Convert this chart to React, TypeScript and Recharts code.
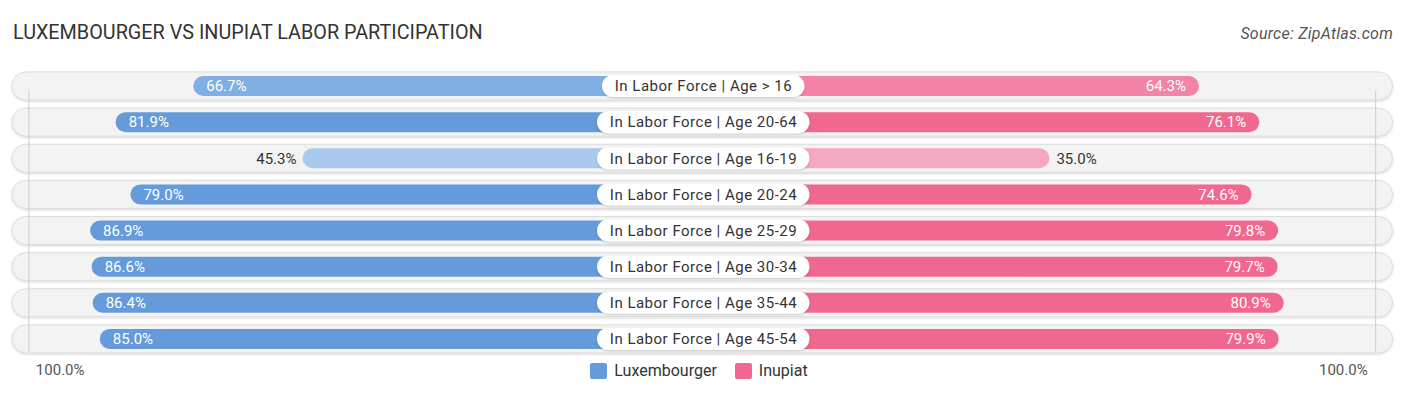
import React from 'react';
import { BarChart, Bar, XAxis, YAxis, ReferenceLine, LabelList } from 'recharts';

const TITLE = 'LUXEMBOURGER VS INUPIAT LABOR PARTICIPATION';
const SOURCE = 'Source: ZipAtlas.com';
const seriesNames = ['Luxembourger', 'Inupiat'];
const categories = [
  'In Labor Force | Age > 16',
  'In Labor Force | Age 20-64',
  'In Labor Force | Age 16-19',
  'In Labor Force | Age 20-24',
  'In Labor Force | Age 25-29',
  'In Labor Force | Age 30-34',
  'In Labor Force | Age 35-44',
  'In Labor Force | Age 45-54',
];
const luxembourger = [66.7, 81.9, 45.3, 79.0, 86.9, 86.6, 86.4, 85.0];
const inupiat = [64.3, 76.1, 35.0, 74.6, 79.8, 79.7, 80.9, 79.9];
const axisLabels = ['100.0%', '100.0%'];

// visual base that sits under the centre label (in axis units)
const OFFSET = 33;
const HALF = 135.2;
const GRID = 131.9;

const BLUE = '#659bda';
const PINK = '#f0678f';
const FONT = 'Roboto, sans-serif';
const CAT_FONT_SIZE = 15;
const CAT_SPACING = 0.5;

const blueFor = (v: number) => (v >= 75 ? '#659bda' : v >= 60 ? '#80b0e3' : '#a9c9ee');
const pinkFor = (v: number) => (v >= 70 ? '#f0678f' : v >= 55 ? '#f384a8' : '#f7a8c1');

let ctx: CanvasRenderingContext2D | null = null;
const measure = (t: string, font: string) => {
  if (!ctx) ctx = document.createElement('canvas').getContext('2d');
  if (!ctx) return t.length * 7;
  ctx.font = font;
  return ctx.measureText(t).width;
};

const data = categories.map((c, i) => ({
  name: c,
  lux: -(luxembourger[i] + OFFSET),
  inu: inupiat[i] + OFFSET,
}));

const RowBg = (props: any) => {
  const { x, y, width, height, index } = props;
  const cy = y + height / 2;
  return (
    <g>
      {index === 0 && (
        <defs>
          <filter id="pillShadow" x="-5%" y="-30%" width="110%" height="160%">
            <feDropShadow dx="0" dy="1" stdDeviation="1" floodColor="#000" floodOpacity="0.18" />
          </filter>
          <filter id="lblShadow" x="-10%" y="-30%" width="120%" height="170%">
            <feDropShadow dx="0" dy="1" stdDeviation="1" floodColor="#000" floodOpacity="0.2" />
          </filter>
        </defs>
      )}
      <rect
        x={x}
        y={cy - 14}
        width={width}
        height={28}
        rx={14}
        ry={14}
        fill="#f3f3f3"
        stroke="#dddddd"
        strokeWidth={1}
        filter="url(#pillShadow)"
      />
    </g>
  );
};

const makeShape = (vals: number[], colorFor: (v: number) => string) => (props: any) => {
  const { x, y, width, height, index } = props;
  const x0 = Math.min(x, x + width);
  const w = Math.abs(width);
  const r = height / 2;
  return <rect x={x0} y={y} width={w} height={height} rx={r} ry={r} fill={colorFor(vals[index])} />;
};

const LuxLabel = (props: any) => {
  const { x, y, width, height, index } = props;
  const v = luxembourger[index];
  const outer = Math.min(x, x + width);
  const cy = y + height / 2;
  const inside = v >= 50;
  return (
    <text
      x={inside ? outer + 13 : outer - 6}
      y={cy}
      dy="0.35em"
      textAnchor={inside ? 'start' : 'end'}
      fontFamily={FONT}
      fontSize={15}
      fill={inside ? '#ffffff' : '#333333'}
    >
      {v.toFixed(1)}%
    </text>
  );
};

const InuLabel = (props: any) => {
  const { x, y, width, height, index } = props;
  const v = inupiat[index];
  const outer = Math.max(x, x + width);
  const center = Math.min(x, x + width);
  const cy = y + height / 2;
  const inside = v >= 50;
  const cat = categories[index];
  const tw = measure(cat, `${CAT_FONT_SIZE}px ${FONT}`) + CAT_SPACING * cat.length;
  const pw = tw + 25;
  return (
    <g>
      <text
        x={inside ? outer - 13 : outer + 7}
        y={cy}
        dy="0.35em"
        textAnchor={inside ? 'end' : 'start'}
        fontFamily={FONT}
        fontSize={15}
        fill={inside ? '#ffffff' : '#333333'}
      >
        {v.toFixed(1)}%
      </text>
      <rect
        x={center + 1 - pw / 2}
        y={cy - 11}
        width={pw}
        height={22}
        rx={11}
        ry={11}
        fill="#ffffff"
        filter="url(#lblShadow)"
      />
      <text
        x={center + 1 + CAT_SPACING / 2}
        y={cy}
        dy="0.35em"
        textAnchor="middle"
        fontFamily={FONT}
        fontSize={CAT_FONT_SIZE}
        letterSpacing={CAT_SPACING}
        fill="#333333"
      >
        {cat}
      </text>
    </g>
  );
};

const GridLine = (side: number) => (props: any) => {
  const { x1, y1, y2 } = props;
  return (
    <g>
      <line x1={x1} x2={x1} y1={y1 - 5} y2={y2 + 23} stroke="#cfcfcf" strokeWidth={1} />
      <text
        x={side < 0 ? x1 + 7 : x1 - 8}
        y={375}
        textAnchor={side < 0 ? 'start' : 'end'}
        fontFamily={FONT}
        fontSize={15}
        fill="#555555"
      >
        {side < 0 ? axisLabels[0] : axisLabels[1]}
      </text>
    </g>
  );
};

export default function App() {
  return (
    <div style={{ position: 'absolute', left: 0, top: 0, width: 1406, height: 395, background: '#ffffff', fontFamily: FONT }}>
      <BarChart
        width={1406}
        height={395}
        layout="vertical"
        data={data}
        stackOffset="sign"
        barSize={20}
        margin={{ top: 68, right: 13.5, bottom: 38, left: 12 }}
      >
        <XAxis type="number" domain={[-HALF, HALF]} hide allowDataOverflow />
        <YAxis type="category" dataKey="name" hide />
        <Bar
          dataKey="lux"
          name={seriesNames[0]}
          stackId="s"
          fill={BLUE}
          isAnimationActive={false}
          background={RowBg}
          shape={makeShape(luxembourger, blueFor)}
        >
          <LabelList dataKey="lux" content={LuxLabel} />
        </Bar>
        <ReferenceLine x={-GRID} shape={GridLine(-1)} ifOverflow="visible" />
        <ReferenceLine x={GRID} shape={GridLine(1)} ifOverflow="visible" />
        <Bar
          dataKey="inu"
          name={seriesNames[1]}
          stackId="s"
          fill={PINK}
          isAnimationActive={false}
          shape={makeShape(inupiat, pinkFor)}
        >
          <LabelList dataKey="inu" content={InuLabel} />
        </Bar>
      </BarChart>
      <div style={{ position: 'absolute', left: 13, top: 21, fontSize: 19.8, lineHeight: '24px', color: '#333333', whiteSpace: 'nowrap' }}>
        {TITLE}
      </div>
      <div style={{ position: 'absolute', right: 13, top: 23.5, fontSize: 16, lineHeight: '20px', letterSpacing: 0.25, fontStyle: 'italic', color: '#555555', whiteSpace: 'nowrap' }}>
        {SOURCE}
      </div>
      <div
        style={{
          position: 'absolute',
          left: 0,
          top: 362,
          width: 1398,
          display: 'flex',
          justifyContent: 'center',
          alignItems: 'center',
          gap: 18,
          fontSize: 16,
          color: '#333333',
        }}
      >
        {seriesNames.map((n, i) => (
          <div key={n} style={{ display: 'flex', alignItems: 'center' }}>
            <div style={{ width: 17, height: 16, borderRadius: 2, background: i === 0 ? BLUE : PINK, marginRight: 7 }} />
            <span style={{ lineHeight: '18px' }}>{n}</span>
          </div>
        ))}
      </div>
    </div>
  );
}
